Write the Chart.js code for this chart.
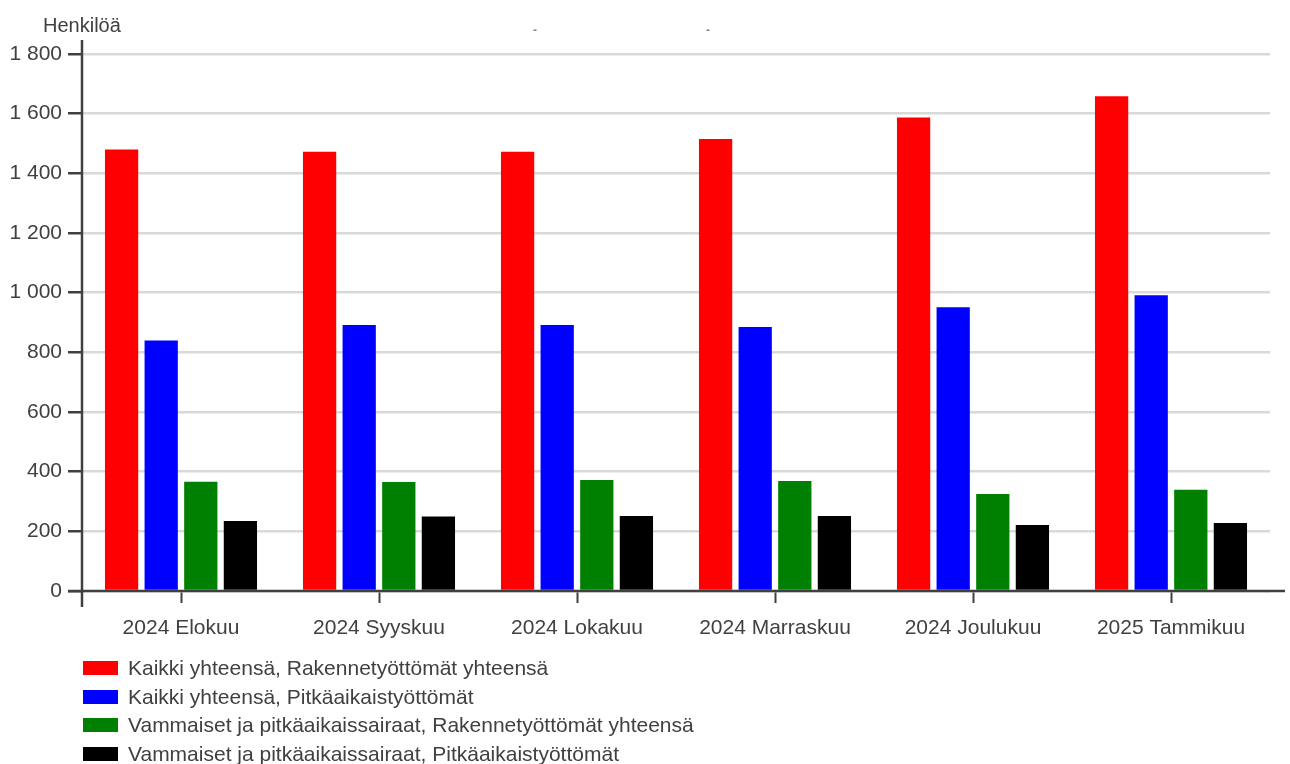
<!DOCTYPE html>
<html>
<head>
<meta charset="utf-8">
<script src="https://cdn.jsdelivr.net/npm/chart.js@4/dist/chart.umd.min.js"></script>
<style>
  html, body { margin: 0; padding: 0; background: #fff; }
  #wrap { position: relative; width: 1290px; height: 764px; }
  #legend { position: absolute; left: 83px; top: 654px; font: 21px "Liberation Sans", Arial, sans-serif; color: #404040; }
  .row { display: flex; align-items: center; height: 28.5px; white-space: nowrap; }
  .box { width: 35px; height: 14px; margin-right: 10px; }
</style>
</head>
<body>
<div id="wrap">
  <canvas id="chart" width="1290" height="764"></canvas>
  <div id="legend"></div>
</div>
<script>
const months = ['2024 Elokuu', '2024 Syyskuu', '2024 Lokakuu', '2024 Marraskuu', '2024 Joulukuu', '2025 Tammikuu'];
const seriesNames = [
  'Kaikki yhteensä, Rakennetyöttömät yhteensä',
  'Kaikki yhteensä, Pitkäaikaistyöttömät',
  'Vammaiset ja pitkäaikaissairaat, Rakennetyöttömät yhteensä',
  'Vammaiset ja pitkäaikaissairaat, Pitkäaikaistyöttömät'
];
const kaikkiRakenne = [1480, 1472, 1472, 1515, 1587, 1658];
const kaikkiPitka = [840, 892, 892, 885, 951, 991];
const vammaisetRakenne = [366, 365, 372, 369, 325, 339];
const vammaisetPitka = [235, 250, 251, 251, 221, 228];
const yTicks = [0, 200, 400, 600, 800, 1000, 1200, 1400, 1600, 1800];

const colors = ['#ff0000', '#0000ff', '#008000', '#000000'];
const values = [kaikkiRakenne, kaikkiPitka, vammaisetRakenne, vammaisetPitka];
const textColor = '#404040';
const fontFamily = '"Liberation Sans", Arial, sans-serif';

// axis lines run a bit past the plot area like in the original
const axisLines = {
  id: 'axisLines',
  afterDraw(chart) {
    const { ctx, chartArea: a } = chart;
    ctx.save();
    ctx.strokeStyle = '#404040';
    ctx.lineWidth = 2.5;
    ctx.beginPath();
    ctx.moveTo(a.left, a.top - 14);
    ctx.lineTo(a.left, a.bottom + 16);
    ctx.moveTo(a.left - 14, a.bottom);
    ctx.lineTo(a.right + 15, a.bottom);
    ctx.stroke();
    ctx.fillStyle = textColor;
    ctx.font = '20px ' + fontFamily;
    ctx.textBaseline = 'alphabetic';
    ctx.fillText('Henkilöä', 43, 32);
    ctx.fillStyle = '#888';
    ctx.font = 'bold 12px ' + fontFamily;
    ctx.textAlign = 'center';
    ctx.fillText('-', 535, 34);
    ctx.fillText('-', 708, 34);
    ctx.restore();
  }
};

new Chart(document.getElementById('chart'), {
  type: 'bar',
  data: {
    labels: months,
    datasets: values.map((v, i) => ({
      label: seriesNames[i],
      data: v,
      backgroundColor: colors[i],
      borderWidth: 0,
      categoryPercentage: 0.8,
      barPercentage: 0.84
    }))
  },
  options: {
    responsive: false,
    animation: false,
    layout: { padding: { top: 54, right: 20, bottom: 124, left: 0 } },
    plugins: { legend: { display: false }, tooltip: { enabled: false } },
    scales: {
      x: {
        afterFit: s => { s.height = 49; },
        grid: { display: true, drawOnChartArea: false, offset: false, tickLength: 12, tickColor: '#404040', tickWidth: 2 },
        border: { display: false },
        ticks: { color: textColor, font: { family: fontFamily, size: 21 }, padding: 13, maxRotation: 0 }
      },
      y: {
        min: 0,
        max: 1800,
        afterFit: s => { s.width = 82; },
        afterBuildTicks: s => { s.ticks = yTicks.map(v => ({ value: v })); },
        grid: { color: '#d9d9d9', lineWidth: 2.5, tickLength: 14, tickColor: '#404040', tickWidth: 2.5 },
        border: { display: false },
        ticks: {
          color: textColor,
          font: { family: fontFamily, size: 21 },
          padding: 6,
          callback: v => String(v).replace(/\B(?=(\d{3})+(?!\d))/g, ' ')
        }
      }
    }
  },
  plugins: [axisLines]
});

document.getElementById('legend').innerHTML = seriesNames.map((n, i) =>
  `<div class="row"><span class="box" style="background:${colors[i]}"></span>${n}</div>`).join('');
</script>
</body>
</html>
